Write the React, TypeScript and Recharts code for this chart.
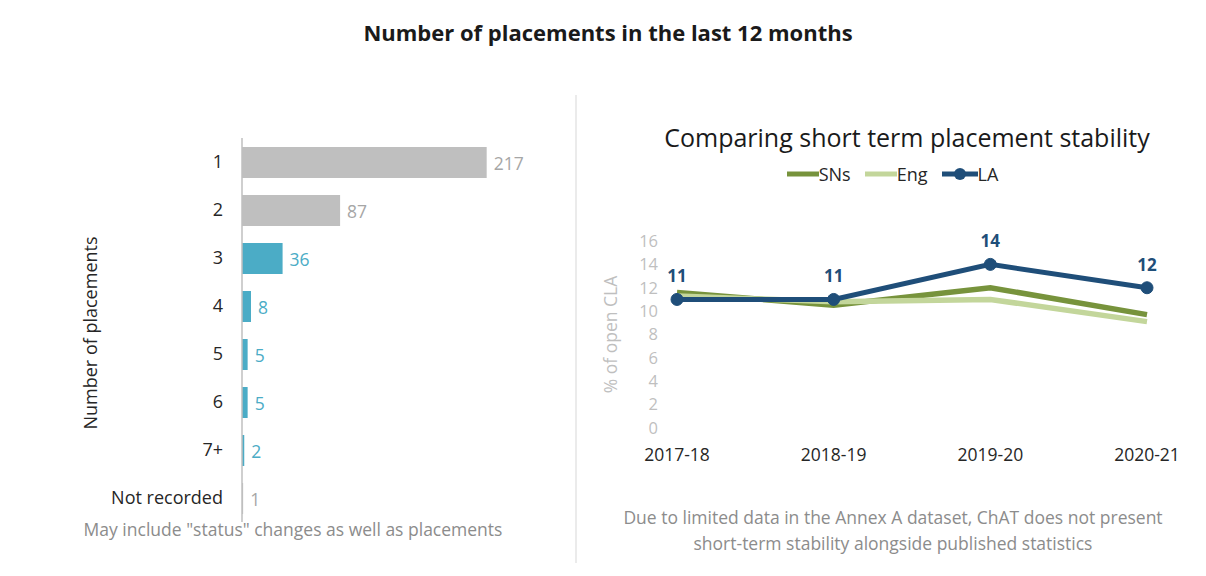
import { BarChart, Bar, Cell, XAxis, YAxis, LabelList, LineChart, Line, Legend } from "recharts"

const placementCats = ["1", "2", "3", "4", "5", "6", "7+", "Not recorded"]
const placementCounts = [217, 87, 36, 8, 5, 5, 2, 1]
const placementGroups = ["grey", "grey", "teal", "teal", "teal", "teal", "teal", "grey"]

const years = ["2017-18", "2018-19", "2019-20", "2020-21"]
const snsValues = [11.6, 10.5, 12.0, 9.7]
const engValues = [11.3, 10.8, 11.0, 9.1]
const laValues = [11, 11, 14, 12]
const pctTicks = [0, 2, 4, 6, 8, 10, 12, 14, 16]

const FONT = "'Open Sans', 'Noto Sans', sans-serif"

const barColors: Record<string, string> = { grey: "#BFBFBF", teal: "#4BACC6" }
const barLabelColors: Record<string, string> = { grey: "#A6A6A6", teal: "#4BACC6" }

const barData = placementCats.map((name, i) => ({
  name,
  count: placementCounts[i],
  group: placementGroups[i],
}))

const lineData = years.map((year, i) => ({
  year,
  SNs: snsValues[i],
  Eng: engValues[i],
  LA: laValues[i],
}))

const lineColors: Record<string, string> = {
  SNs: "#77933C",
  Eng: "#C3D69B",
  LA: "#1F4E79",
}

function BarValueLabel(props: any) {
  const { x, y, width, height, value, index } = props
  const color = barLabelColors[placementGroups[index]] || "#A6A6A6"
  return (
    <text
      x={x + width + 7}
      y={y + height / 2}
      dominantBaseline="central"
      fill={color}
      fontSize={17.5}
      fontFamily={FONT}
    >
      {value}
    </text>
  )
}

function StabilityLegend() {
  const items = ["SNs", "Eng", "LA"]
  return (
    <div
      style={{
        display: "flex",
        justifyContent: "center",
        alignItems: "center",
        paddingLeft: 18,
        fontFamily: FONT,
        fontSize: 18,
        color: "#262626",
      }}
    >
      {items.map((k) => (
        <div key={k} style={{ display: "flex", alignItems: "center", marginRight: 14 }}>
          <svg width={k === "LA" ? 36 : 32} height={14}>
            <line x1={0} y1={7} x2={k === "LA" ? 36 : 32} y2={7} stroke={lineColors[k]} strokeWidth={5} />
            {k === "LA" && <circle cx={18} cy={7} r={6} fill={lineColors[k]} />}
          </svg>
          <span>{k}</span>
        </div>
      ))}
    </div>
  )
}

export default function App() {
  return (
    <div
      style={{
        position: "absolute",
        left: 0,
        top: 0,
        width: 1206,
        height: 576,
        background: "#fff",
        fontFamily: FONT,
        overflow: "hidden",
      }}
    >
      <div
        style={{
          position: "absolute",
          top: 17,
          left: 0,
          width: 1216,
          textAlign: "center",
          fontSize: 22,
          fontWeight: 700,
          color: "#1a1a1a",
        }}
      >
        Number of placements in the last 12 months
      </div>

      <div
        style={{
          position: "absolute",
          left: 575,
          top: 95,
          width: 2,
          height: 468,
          background: "#EBEBEB",
        }}
      />

      {/* left: bar chart of placement counts */}
      <div style={{ position: "absolute", left: 0, top: 0 }}>
        <BarChart
          width={575}
          height={576}
          data={barData}
          layout="vertical"
          margin={{ top: 138, right: 6, bottom: 54, left: 0 }}
        >
          <XAxis type="number" domain={[0, 290]} hide />
          <YAxis
            type="category"
            dataKey="name"
            width={242}
            axisLine={{ stroke: "#BFBFBF", strokeWidth: 1.5 }}
            tickLine={false}
            tickSize={6}
            tickMargin={13}
            tick={{ fill: "#262626", fontSize: 18, fontFamily: FONT }}
            label={{
              value: "Number of placements",
              angle: -90,
              position: "center",
              dx: -30,
              dy: 3,
              fill: "#262626",
              fontSize: 18,
              fontFamily: FONT,
            }}
          />
          <Bar dataKey="count" barSize={31} isAnimationActive={false}>
            {barData.map((d, i) => (
              <Cell key={`bar-${i}`} fill={barColors[d.group]} />
            ))}
            <LabelList dataKey="count" content={BarValueLabel} />
          </Bar>
        </BarChart>
      </div>

      <div
        style={{
          position: "absolute",
          top: 517,
          left: 70,
          width: 446,
          textAlign: "center",
          fontSize: 17.5,
          color: "#8C8C8C",
        }}
      >
        May include "status" changes as well as placements
      </div>

      {/* right: line chart of short term stability */}
      <div
        style={{
          position: "absolute",
          top: 120,
          left: 575,
          width: 664,
          textAlign: "center",
          fontSize: 25,
          color: "#1a1a1a",
        }}
      >
        Comparing short term placement stability
      </div>

      <div style={{ position: "absolute", left: 575, top: 0 }}>
        <LineChart
          width={631}
          height={576}
          data={lineData}
          margin={{ top: 241, right: 44, bottom: 118, left: 8 }}
        >
          <XAxis
            dataKey="year"
            axisLine={false}
            tickLine={false}
            tickSize={6}
            tickMargin={15}
            height={30}
            padding={{ left: 15, right: 15 }}
            interval={0}
            tick={{ fill: "#262626", fontSize: 17.5, fontFamily: FONT }}
          />
          <YAxis
            domain={[0, 16]}
            ticks={pctTicks}
            interval={0}
            width={79}
            axisLine={false}
            tickLine={false}
            tickSize={0}
            tickMargin={4}
            tick={{ fill: "#BFBFBF", fontSize: 16.5, fontFamily: FONT }}
            label={{
              value: "% of open CLA",
              angle: -90,
              position: "center",
              dx: -12,
              fill: "#BFBFBF",
              fontSize: 17.5,
              fontFamily: FONT,
            }}
          />
          <Legend
            verticalAlign="middle"
            content={<StabilityLegend />}
            wrapperStyle={{ top: 162, left: 0, width: 631 }}
          />
          <Line
            dataKey="SNs"
            stroke={lineColors.SNs}
            strokeWidth={5.5}
            dot={false}
            isAnimationActive={false}
          />
          <Line
            dataKey="Eng"
            stroke={lineColors.Eng}
            strokeWidth={5.5}
            dot={false}
            isAnimationActive={false}
          />
          <Line
            dataKey="LA"
            stroke={lineColors.LA}
            strokeWidth={5}
            dot={{ r: 6, fill: lineColors.LA, stroke: lineColors.LA, strokeWidth: 1 }}
            isAnimationActive={false}
          >
            <LabelList
              dataKey="LA"
              position="top"
              offset={17}
              fill={lineColors.LA}
              fontSize={17}
              fontWeight={700}
              fontFamily={FONT}
            />
          </Line>
        </LineChart>
      </div>

      <div
        style={{
          position: "absolute",
          top: 504,
          left: 575,
          width: 636,
          textAlign: "center",
          fontSize: 17.5,
          lineHeight: "26px",
          color: "#8C8C8C",
        }}
      >
        Due to limited data in the Annex A dataset, ChAT does not present
        <br />
        short-term stability alongside published statistics
      </div>
    </div>
  )
}
